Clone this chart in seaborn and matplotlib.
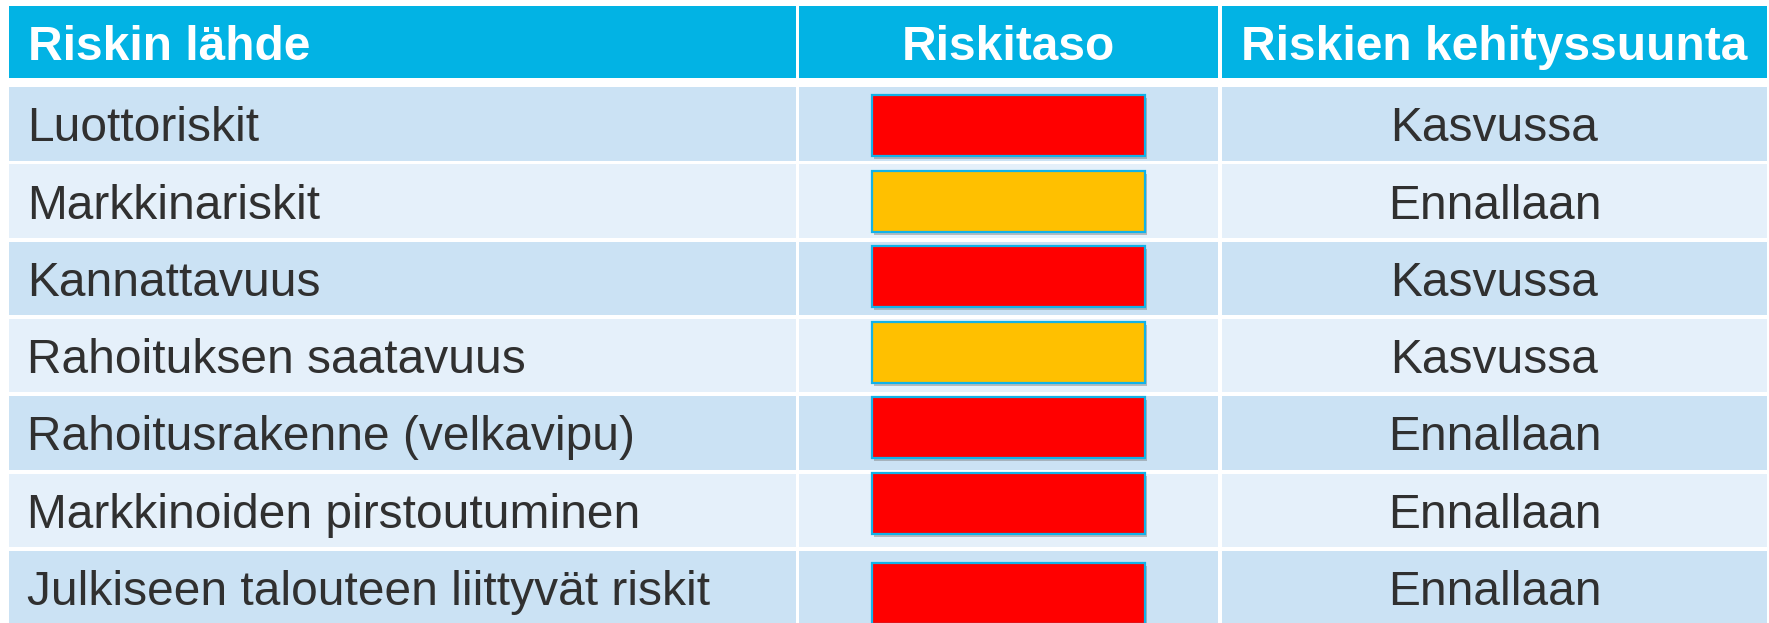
import matplotlib
matplotlib.use("Agg")
import matplotlib.pyplot as plt
import matplotlib.patheffects as pe
import seaborn as sns

# ── Data ──────────────────────────────────────────────────────────────
headers = ["Riskin lähde", "Riskitaso", "Riskien kehityssuunta"]
sources = [
    "Luottoriskit",
    "Markkinariskit",
    "Kannattavuus",
    "Rahoituksen saatavuus",
    "Rahoitusrakenne (velkavipu)",
    "Markkinoiden pirstoutuminen",
    "Julkiseen talouteen liittyvät riskit",
]
levels = ["korkea", "kohtalainen", "korkea", "kohtalainen", "korkea", "korkea", "korkea"]
trends = ["Kasvussa", "Ennallaan", "Kasvussa", "Kasvussa", "Ennallaan", "Ennallaan", "Ennallaan"]

level_colors = {"korkea": "#FF0000", "kohtalainen": "#FFC000"}

# ── Style ─────────────────────────────────────────────────────────────
sns.set_theme(style="white")
plt.rcParams["font.family"] = ["Liberation Sans", "DejaVu Sans"]

HEADER_BG = "#02B3E4"
ROW_BG = ["#CBE2F4", "#E5F0FA"]
TEXT = "#303030"
EDGE = "#12B2E8"
HEAD_FS, BODY_FS = 34.5, 34.5

# ── Layout (pixels) ───────────────────────────────────────────────────
W, H = 1769, 623
col_left = [9, 799, 1222]
col_right = [796, 1218, 1767]
header_top, header_bot = 6, 78
row0, pitch, row_h = 87, 77.3, 73.5
# indicator boxes were placed by hand in the original slide
ind_left, ind_width, ind_h = 872, 273, 61
ind_tops = [95, 171, 246, 322, 397, 473, 563]

fig = plt.figure(figsize=(W / 100, H / 100), dpi=100)
ax = fig.add_axes([0, 0, 1, 1])
ax.set_xlim(0, W)
ax.set_ylim(H, 0)
ax.axis("off")

# header
hy = (header_top + header_bot) / 2
for j, label in enumerate(headers):
    ax.barh(hy, col_right[j] - col_left[j], left=col_left[j],
            height=header_bot - header_top, color=HEADER_BG, linewidth=0)
    if j == 0:
        ax.text(col_left[j] + 19, hy, label, color="white",
                fontsize=HEAD_FS, fontweight="bold", ha="left", va="center_baseline")
    else:
        ax.text((col_left[j] + col_right[j]) / 2, hy, label, color="white",
                fontsize=HEAD_FS, fontweight="bold", ha="center", va="center_baseline")

# body rows
for i, (src, lvl, trend) in enumerate(zip(sources, levels, trends)):
    top = row0 + i * pitch
    yc = top + row_h / 2
    for j in range(3):
        ax.barh(yc, col_right[j] - col_left[j], left=col_left[j], height=row_h,
                color=ROW_BG[i % 2], linewidth=0)
    ax.text(col_left[0] + 18, yc, src, color=TEXT, fontsize=BODY_FS,
            ha="left", va="center_baseline")
    ax.text((col_left[2] + col_right[2]) / 2, yc, trend, color=TEXT, fontsize=BODY_FS,
            ha="center", va="center_baseline")
    bar = ax.barh(ind_tops[i] + ind_h / 2, ind_width, left=ind_left, height=ind_h,
                  color=level_colors[lvl], edgecolor=EDGE, linewidth=1.6)
    for patch in bar:
        patch.set_path_effects([
            pe.SimplePatchShadow(offset=(1.2, -2.5), shadow_rgbFace="#7a7a7a", alpha=0.45),
            pe.Normal(),
        ])

fig.savefig("out.png", dpi=100)
plt.close(fig)
